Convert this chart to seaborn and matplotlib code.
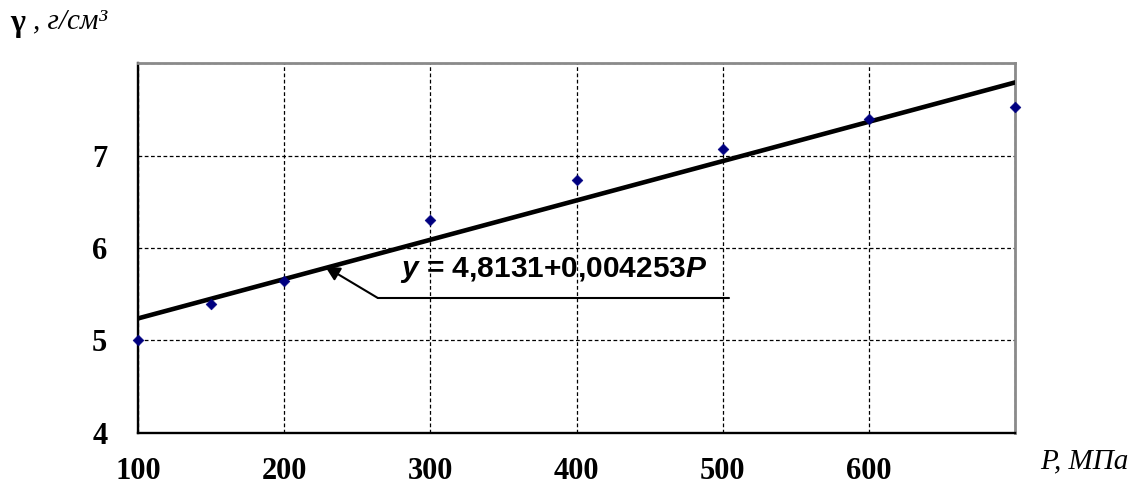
# density vs pressure, scatter + linear fit line

import matplotlib.pyplot as plt
import numpy as np
import pandas as pd
import seaborn as sns

# measured points
pressure = [100, 150, 200, 300, 400, 500, 600, 700]
density = [5.00, 5.39, 5.64, 6.30, 6.73, 7.07, 7.39, 7.52]

# fit y = a + b*P
fit_a = 4.8131
fit_b = 0.004253

x_ticks = [100, 200, 300, 400, 500, 600, 700]
x_labels = ["100", "200", "300", "400", "500", "600", ""]
y_ticks = [4, 5, 6, 7, 8]
y_labels = ["4", "5", "6", "7", ""]


def main():
    sns.set_style("white")
    plt.rcParams["font.family"] = ["Liberation Serif", "DejaVu Serif"]
    plt.rcParams["text.color"] = "black"
    plt.rcParams["xtick.color"] = "black"
    plt.rcParams["ytick.color"] = "black"
    plt.rcParams["mathtext.fontset"] = "custom"
    plt.rcParams["mathtext.rm"] = "Liberation Sans:bold"
    plt.rcParams["mathtext.it"] = "Liberation Sans:italic:bold"

    df = pd.DataFrame({"P": pressure, "gamma": density})
    p_ends = np.array([min(pressure), max(pressure)])
    fit_df = pd.DataFrame({"P": p_ends, "gamma": fit_a + fit_b * p_ends})

    fig = plt.figure(figsize=(11.47, 4.95), dpi=100)
    ax = fig.add_axes([0.1203, 0.1253, 0.7647, 0.7474])

    ax.grid(True, color="black", lw=0.9, ls=(0, (3, 2)))
    ax.set_axisbelow(True)

    sns.lineplot(data=fit_df, x="P", y="gamma", color="black", lw=3.3, ax=ax, zorder=3)
    sns.scatterplot(data=df, x="P", y="gamma", marker="D", color="#000080",
                    s=30, edgecolor="#000080", ax=ax, zorder=4, clip_on=False)

    ax.set_xlim(100, 700)
    ax.set_ylim(4, 8)
    ax.set_xticks(x_ticks)
    ax.set_xticklabels(x_labels)
    ax.set_yticks(y_ticks)
    ax.set_yticklabels(y_labels)
    ax.set_xlabel("")
    ax.set_ylabel("")
    ax.tick_params(axis="both", direction="out", length=8, width=1.4,
                   labelsize=22, labelcolor="black")
    ax.tick_params(axis="x", pad=9)
    ax.tick_params(axis="y", pad=14)
    for lab in ax.get_xticklabels() + ax.get_yticklabels():
        lab.set_fontweight("bold")

    for side in ["left", "bottom"]:
        ax.spines[side].set_color("black")
        ax.spines[side].set_linewidth(1.7)
    for side in ["top", "right"]:
        ax.spines[side].set_color("#8a8a8a")
        ax.spines[side].set_linewidth(2)
        ax.spines[side].set_visible(True)

    # equation callout
    ax.plot([264, 504], [5.46, 5.46], color="black", lw=1.5, zorder=3)
    ax.annotate("", xy=(228, 5.8), xytext=(264, 5.46),
                arrowprops=dict(arrowstyle="-|>", color="black", lw=1.5,
                                mutation_scale=22, shrinkA=0, shrinkB=0), zorder=5)
    ax.text(279, 5.69, r"$y$ = 4,8131+0,004253$P$", fontsize=21.5,
            family="Liberation Sans", fontweight="bold", va="baseline", zorder=5)

    fig.text(0.009, 0.953, "γ", fontsize=23, fontweight="bold", va="center")
    fig.text(0.029, 0.957, ", г/см³", fontsize=21, style="italic", va="center")
    fig.text(0.907, 0.067, "P, МПа", fontsize=21, style="italic", va="center")

    fig.savefig("out.png", dpi=100)
    plt.close(fig)


if __name__ == "__main__":
    main()
